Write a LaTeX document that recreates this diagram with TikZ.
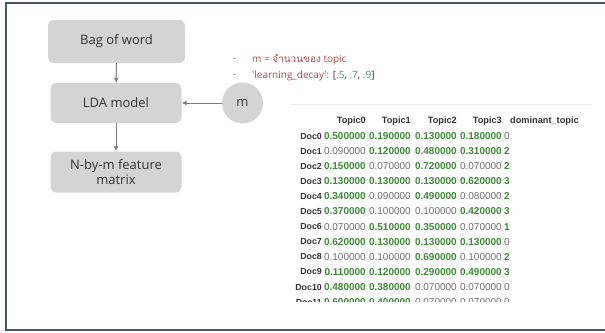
\documentclass[tikz,border=0pt]{standalone}
\usepackage{fontspec}
\setmainfont{Liberation Sans}
\newfontfamily\boxfont{Open Sans}
\newfontfamily\thaifont[Script=Thai]{Loma}
\newfontfamily\tabfont{Liberation Sans}
\usetikzlibrary{arrows.meta}
\definecolor{boxgray}{HTML}{D4D4D4}
\definecolor{boxtext}{HTML}{333333}
\definecolor{arrgray}{HTML}{7A7A7A}
\definecolor{framec}{HTML}{4A5466}
\definecolor{redtxt}{HTML}{B04848}
\definecolor{tealtxt}{HTML}{3E8E7E}
\definecolor{tgreen}{HTML}{3C8A36}
\definecolor{tgray}{HTML}{6E6E6E}
\definecolor{tlab}{HTML}{333333}
\newcommand\vB[1]{\textbf{\color{tgreen}#1}}
\newcommand\vN[1]{{\color{tgray}#1}}
\newcommand\tabrow[7]{%
  \node[lab] (doc#1) at (322,#2) {Doc#1};
  \node[val] (r#1a) at (366,#2) {#3};
  \node[val] (r#1b) at (411,#2) {#4};
  \node[val] (r#1c) at (457,#2) {#5};
  \node[val] (r#1d) at (502,#2) {#6};
  \node[dom] (r#1e) at (504,#2) {#7};
}
\begin{document}
\begin{tikzpicture}[x=1pt,y=-1pt,
  gbox/.style={draw=none, fill=boxgray, rounded corners=6pt, minimum width=134pt, minimum height=41pt,
    font=\boxfont\fontsize{13}{15}\selectfont, text=boxtext, align=center, inner sep=0pt},
  conn/.style={draw=arrgray, line width=1pt, -{Latex[length=5pt,width=5pt]}},
  lab/.style={anchor=east, inner sep=0pt, font=\tabfont\bfseries\fontsize{8.8}{10}\selectfont, text=tlab},
  val/.style={anchor=east, inner sep=0pt, font=\tabfont\fontsize{10}{12}\selectfont},
  dom/.style={anchor=west, inner sep=0pt, font=\tabfont\fontsize{10}{12}\selectfont},
  hdr/.style={anchor=east, inner sep=0pt, font=\tabfont\bfseries\fontsize{9.2}{11}\selectfont, text=tlab},
  note/.style={anchor=west, inner sep=0pt, font=\boxfont\fontsize{10}{12}\selectfont}]
\useasboundingbox (0,0) rectangle (605,332);
\fill[white] (0,0) rectangle (605,332);
% frame
\draw[framec, line width=2pt] (605,2.5) -- (5.5,2.5) -- (5.5,329.5) -- (605,329.5);
% flow boxes
\node[gbox, minimum width=137pt, minimum height=43pt] (bag) at (116.5,41.5) {Bag of word};
\node[gbox, minimum width=131pt, minimum height=40pt] (lda) at (116,103) {LDA model};
\node[gbox, minimum width=131pt, minimum height=41pt] (nbm) at (116,172) {N-by-m feature\\matrix};
\node[circle, fill=boxgray, minimum size=41pt, inner sep=0pt, font=\boxfont\fontsize{13}{15}\selectfont, text=boxtext] (m) at (242.5,103) {m};
\draw[conn] (bag) -- (lda);
\draw[conn] (lda) -- (nbm);
\draw[conn] (m) -- (lda);
% notes
\node[note, text=arrgray] (d1) at (233,60) {-};
\node[note, text=redtxt] (n1) at (252,60) {m = {\thaifont จำนวนของ} topic};
\node[note, text=arrgray] (d2) at (233,76) {-};
\node[note, text=redtxt] (n2) at (252,76) {'learning\_decay': {\color{boxtext}[}{\color{tealtxt}.5}{\color{boxtext},} {\color{tealtxt}.7}{\color{boxtext},} {\color{tealtxt}.9}{\color{boxtext}]}};
% faint rule
\draw[black!7, line width=0.8pt] (290,104) -- (592,104);
% table header
\node[hdr] (h0) at (366,121) {Topic0};
\node[hdr] (h1) at (411,121) {Topic1};
\node[hdr] (h2) at (457,121) {Topic2};
\node[hdr] (h3) at (502,121) {Topic3};
\node[hdr, anchor=west] (h4) at (510,121) {dominant\_topic};
% table rows
\tabrow{0}{136.0}{\vB{0.500000}}{\vB{0.190000}}{\vB{0.130000}}{\vB{0.180000}}{\vN{0}}
\tabrow{1}{151.1}{\vN{0.090000}}{\vB{0.120000}}{\vB{0.480000}}{\vB{0.310000}}{\vB{2}}
\tabrow{2}{166.2}{\vB{0.150000}}{\vN{0.070000}}{\vB{0.720000}}{\vN{0.070000}}{\vB{2}}
\tabrow{3}{181.3}{\vB{0.130000}}{\vB{0.130000}}{\vB{0.130000}}{\vB{0.620000}}{\vB{3}}
\tabrow{4}{196.4}{\vB{0.340000}}{\vN{0.090000}}{\vB{0.490000}}{\vN{0.080000}}{\vB{2}}
\tabrow{5}{211.5}{\vB{0.370000}}{\vN{0.100000}}{\vN{0.100000}}{\vB{0.420000}}{\vB{3}}
\tabrow{6}{226.6}{\vN{0.070000}}{\vB{0.510000}}{\vB{0.350000}}{\vN{0.070000}}{\vB{1}}
\tabrow{7}{241.7}{\vB{0.620000}}{\vB{0.130000}}{\vB{0.130000}}{\vB{0.130000}}{\vN{0}}
\tabrow{8}{256.8}{\vN{0.100000}}{\vN{0.100000}}{\vB{0.690000}}{\vN{0.100000}}{\vB{2}}
\tabrow{9}{271.9}{\vB{0.110000}}{\vB{0.120000}}{\vB{0.290000}}{\vB{0.490000}}{\vB{3}}
\tabrow{10}{287.0}{\vB{0.480000}}{\vB{0.380000}}{\vN{0.070000}}{\vN{0.070000}}{\vN{0}}
\begin{scope}
\clip (290,295) rectangle (600,301);
\tabrow{11}{302.1}{\vB{0.600000}}{\vB{0.400000}}{\vN{0.070000}}{\vN{0.070000}}{\vN{0}}
\end{scope}
\end{tikzpicture}
\end{document}
